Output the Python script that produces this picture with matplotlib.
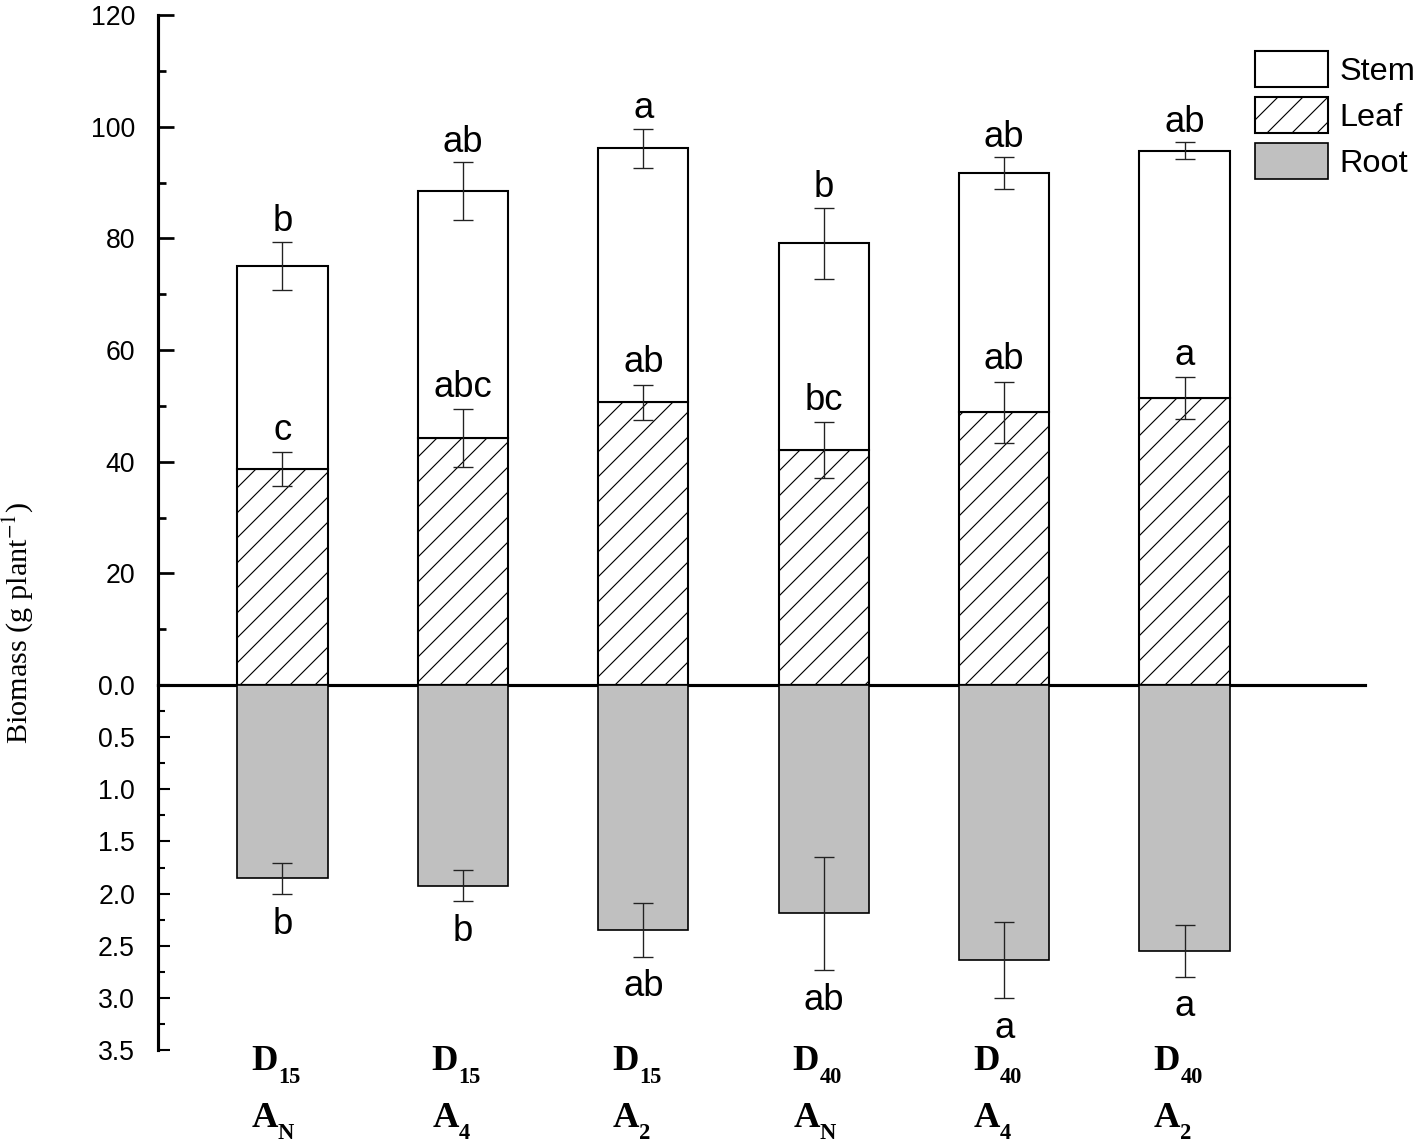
import numpy as np
import matplotlib
matplotlib.use("Agg")
import matplotlib.pyplot as plt
from matplotlib.ticker import MultipleLocator, FormatStrFormatter

plt.rcParams['font.family'] = ['Liberation Sans', 'DejaVu Sans']
plt.rcParams['mathtext.fontset'] = 'stix'
plt.rcParams['hatch.linewidth'] = 0.55

# data
d_labels = ['15', '15', '15', '40', '40', '40']
a_labels = ['N', '4', '2', 'N', '4', '2']
leaf = [38.7, 44.2, 50.6, 42.1, 48.85, 51.35]
leaf_err = [3.0, 5.2, 3.2, 5.0, 5.5, 3.75]
total = [75.1, 88.5, 96.1, 79.1, 91.65, 95.7]
total_err = [4.3, 5.15, 3.5, 6.4, 2.9, 1.5]
root = [1.855, 1.925, 2.35, 2.19, 2.64, 2.55]
root_err = [0.15, 0.15, 0.255, 0.545, 0.365, 0.25]
stem_letters = ['b', 'ab', 'a', 'b', 'ab', 'ab']
leaf_letters = ['c', 'abc', 'ab', 'bc', 'ab', 'a']
root_letters = ['b', 'b', 'ab', 'ab', 'a', 'a']

x = np.arange(1, 7)
leaf = np.array(leaf)
total = np.array(total)
stem = total - leaf
root = np.array(root)

W, H = 1418, 1145
fig = plt.figure(figsize=(W / 150, H / 150), dpi=150)
left = 158 / W
width = (1365 - 158) / W
ax = fig.add_axes([left, (H - 685) / H, width, 670 / H])
axr = fig.add_axes([left, (H - 1050) / H, width, 365 / H])

bw = 0.5
ebar = dict(fmt='none', ecolor='#222222', elinewidth=0.65, capsize=4.6, capthick=0.65, zorder=4)

b_leaf = ax.bar(x, leaf, bw, color='white', edgecolor='black', linewidth=1.0,
                hatch='//', label='Leaf', zorder=2)
b_stem = ax.bar(x, stem, bw, bottom=leaf, color='white', edgecolor='black',
                linewidth=1.0, label='Stem', zorder=2)
ax.errorbar(x, total, yerr=total_err, **ebar)
ax.errorbar(x, leaf, yerr=leaf_err, **ebar)

b_root = axr.bar(x, root, bw, color='#c0c0c0', edgecolor='black', linewidth=0.8,
                 label='Root', zorder=2)
axr.errorbar(x, root, yerr=root_err, **ebar)

fs_let = 17.5
lab = dict(xycoords=('data', 'axes fraction'), textcoords='offset points',
           va='baseline', family='Liberation Serif', weight='bold')
for i in range(6):
    ax.annotate(stem_letters[i], (x[i], total[i] + total_err[i]), xytext=(0, 5.0),
                textcoords='offset points', ha='center', va='baseline', fontsize=fs_let)
    ax.annotate(leaf_letters[i], (x[i], leaf[i] + leaf_err[i]), xytext=(0, 6),
                textcoords='offset points', ha='center', va='baseline', fontsize=fs_let)
    axr.annotate(root_letters[i], (x[i], root[i] + root_err[i]), xytext=(0, -6.0),
                 textcoords='offset points', ha='center', va='top', fontsize=fs_let)
    # treatment labels: big letter + lowered subscript
    axr.annotate('D', (x[i], 0), xytext=(-2.3, -9.6), ha='right', fontsize=17.5, **lab)
    axr.annotate(d_labels[i], (x[i], 0), xytext=(-2.0, -15.8), ha='left', fontsize=10.8, **lab)
    axr.annotate('A', (x[i], 0), xytext=(-2.0, -37), ha='right', fontsize=17.5, **lab)
    axr.annotate(a_labels[i], (x[i], 0), xytext=(-2.2, -42.8), ha='left', fontsize=10.8, **lab)

xl = (0.31, 7.0)
ax.set_xlim(xl)
axr.set_xlim(xl)
ax.set_ylim(0, 120)
axr.set_ylim(3.5, 0)

for a in (ax, axr):
    a.patch.set_visible(False)
    for s in ('top', 'right'):
        a.spines[s].set_visible(False)
    a.spines['left'].set_linewidth(1.5)
    a.set_xticks([])
ax.spines['bottom'].set_linewidth(1.5)
ax.spines['bottom'].set_zorder(5)
axr.spines['bottom'].set_visible(False)

ax.set_yticks(np.arange(20, 121, 20))
ax.yaxis.set_minor_locator(MultipleLocator(10))
ax.tick_params(axis='y', which='major', direction='in', length=7.7, width=1.3,
               pad=11, labelsize=12.8)
ax.tick_params(axis='y', which='minor', direction='in', length=3.8, width=1.3)

axr.set_yticks(np.arange(0, 3.51, 0.5))
axr.yaxis.set_major_formatter(FormatStrFormatter('%.1f'))
axr.yaxis.set_minor_locator(MultipleLocator(0.25))
axr.tick_params(axis='y', which='major', direction='in', length=5.8, width=1.0,
                pad=11, labelsize=12.8)
axr.tick_params(axis='y', which='minor', direction='in', length=3.4, width=1.0)

fig.text(18 / W, 1 - 623 / H, r'Biomass (g plant$^{-1}$)', rotation=90,
         ha='center', va='center', fontsize=14.5, family='Liberation Serif')

fig.legend([b_stem, b_leaf, b_root], ['Stem', 'Leaf', 'Root'],
           loc='upper left', bbox_to_anchor=(1255 / W, 1 - 51 / H),
           frameon=False, borderpad=0, borderaxespad=0, fontsize=15.6,
           handlelength=2.25, handleheight=1.33, labelspacing=0.3,
           handletextpad=0.36)

fig.savefig('out.png', dpi=150)
